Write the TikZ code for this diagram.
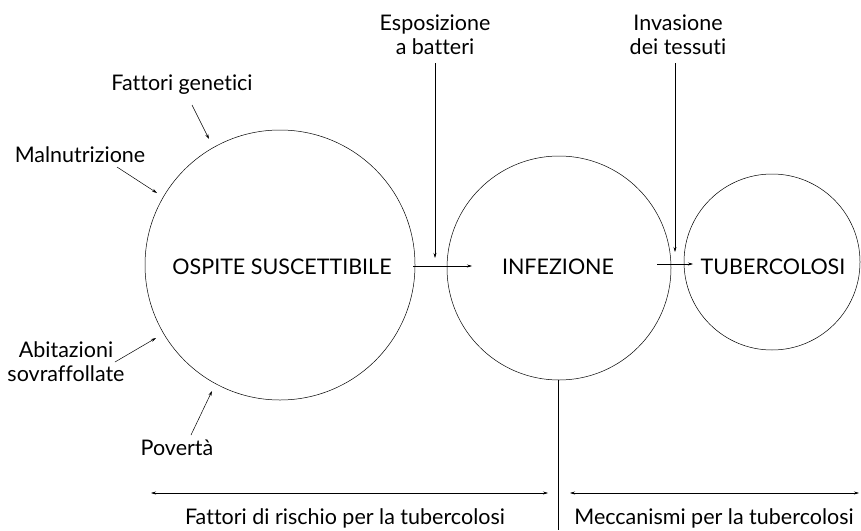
\documentclass[tikz,border=0pt]{standalone}
\usepackage{fontspec}
\setmainfont{Lato}[Ligatures=NoCommon]
\usetikzlibrary{arrows.meta}
\begin{document}
\begin{tikzpicture}[x=1pt,y=-1pt,
  ring/.style={draw,circle,line width=0.5pt,inner sep=0pt},
  lbl/.style={font=\fontsize{21.5}{24}\selectfont,align=center,inner sep=0pt},
  arr/.style={line width=0.5pt,-{Stealth[length=5pt,width=3pt]}},
  darr/.style={line width=0.5pt,{Stealth[length=5pt,width=3pt]}-{Stealth[length=5pt,width=3pt]}},
  rule/.style={line width=0.5pt}]
\useasboundingbox (0,0) rectangle (861,530);

% the three stages
\node[ring,minimum size=270pt] (host) at (280,265) {};
\node[ring,minimum size=224pt] (inf) at (559,268) {};
\node[ring,minimum size=176pt] (tb) at (772,262) {};

\node[lbl] (thost) at (282,267) {OSPITE SUSCETTIBILE};
\node[lbl] (tinf) at (558,267) {INFEZIONE};
\node[lbl] (ttb) at (773,267) {TUBERCOLOSI};

% risk factors
\node[lbl] (gen) at (182,85) {Fattori genetici};
\node[lbl] (mal) at (80,155) {Malnutrizione};
\node[lbl] (abit) at (66,362) {Abitazioni\\sovraffollate};
\node[lbl] (pov) at (177,448) {Povertà};

\coordinate (genA) at (192,105);  \coordinate (genB) at (209,139);
\coordinate (malA) at (117,167);  \coordinate (malB) at (157,193);
\coordinate (abitA) at (115,362); \coordinate (abitB) at (156,338);
\coordinate (povA) at (191,435);  \coordinate (povB) at (212,391);
\draw[arr] (genA) -- (genB);
\draw[arr] (malA) -- (malB);
\draw[arr] (abitA) -- (abitB);
\draw[arr] (povA) -- (povB);

% mechanisms
\node[lbl] (espo) at (435,35) {Esposizione\\a batteri};
\node[lbl] (inva) at (678,35) {Invasione\\dei tessuti};
\coordinate (espoA) at (435,63);  \coordinate (espoB) at (435,258);
\coordinate (invaA) at (675,63);  \coordinate (invaB) at (675,252);
\draw[arr] (espoA) -- (espoB);
\draw[arr] (invaA) -- (invaB);

\coordinate (h1A) at (413,266); \coordinate (h1B) at (472,266);
\coordinate (h2A) at (657,264); \coordinate (h2B) at (693,264);
\draw[arr] (h1A) -- (h1B);
\draw[arr] (h2A) -- (h2B);

% divider and scopes
\coordinate (divB) at (558,530);
\draw[rule] (inf.south -| divB) -- (divB);
\coordinate (lA) at (151,493); \coordinate (lB) at (548,493);
\coordinate (rA) at (570,493); \coordinate (rB) at (859,493);
\draw[darr] (lA) -- (lB);
\draw[darr] (rA) -- (rB);
\node[lbl] (risk) at (345,518) {Fattori di rischio per la tubercolosi};
\node[lbl] (mech) at (714,518) {Meccanismi per la tubercolosi};
\end{tikzpicture}
\end{document}
